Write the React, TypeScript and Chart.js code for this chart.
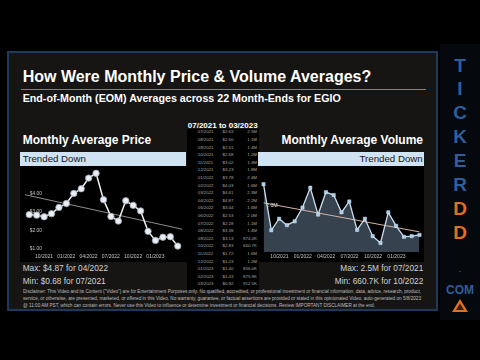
import React, { useEffect, useRef } from "react";
import { Chart, registerables } from "chart.js";
Chart.register(...registerables);

const FONT = '"Liberation Sans", Arial, Helvetica, sans-serif';

const months = [
  "07/2021", "08/2021", "09/2021", "10/2021", "11/2021", "12/2021",
  "01/2022", "02/2022", "03/2022", "04/2022", "05/2022", "06/2022",
  "07/2022", "08/2022", "09/2022", "10/2022", "11/2022", "12/2022",
  "01/2023", "02/2023", "03/2023",
];
const prices = [
  2.63, 2.6, 2.51, 2.68, 3.02, 3.23, 3.78, 4.03, 4.61, 4.87, 3.44, 2.53,
  2.28, 3.38, 3.13, 2.83, 1.72, 1.23, 1.4, 1.43, 0.92,
];
const volumes = [
  2500000, 1060000, 1420000, 1220000, 1340000, 1770000, 2390000, 1550000,
  2250000, 2160000, 1620000, 1960000, 1070000, 1420000, 874400, 660700,
  1620000, 1200000, 856000, 875900, 912500,
];
const priceTicks = [1, 2, 3, 4];
const volumeTicks = [1000000, 2000000];
const xTickIndices = [3, 6, 9, 12, 15, 18];

const titleText = "How Were Monthly Price & Volume Averages?";
const subtitleText = "End-of-Month (EOM) Averages across 22 Month-Ends for EGIO";
const rangeText = "07/2021 to 03/2023";
const priceMax = "Max: $4.87 for 04/2022";
const priceMin = "Min: $0.68 for 07/2021";
const volMax = "Max: 2.5M for 07/2021";
const volMin = "Min: 660.7K for 10/2022";
const disclaimer = [
  'Disclaimer: This Video and its Content ("Video") are for Entertainment Purposes only. No qualified, accredited, or professional investment or financial information, data, advice, research, product,',
  "service, or otherwise, are presented, marketed, or offered in this Video. No warranty, guarantee, or factual assertions are provided or stated in this opinionated Video, auto-generated on 5/8/2023",
  "@ 11:00 AM PST, which can contain errors. Never use this Video to influence or determine investment or financial decisions. Review IMPORTANT DISCLAIMER at the end.",
];
const disclaimerWidths = [398, 398, 352];
const brandLetters = ["T", "I", "C", "K", "E", "R", "D", "D"];

function linreg(ys: number[]) {
  const n = ys.length;
  const mx = (n - 1) / 2;
  const my = ys.reduce((a, b) => a + b, 0) / n;
  let sxy = 0;
  let sxx = 0;
  ys.forEach((y, i) => {
    sxy += (i - mx) * (y - my);
    sxx += (i - mx) * (i - mx);
  });
  const slope = sxy / sxx;
  return (x: number) => my + slope * (x - mx);
}

function fmtVol(v: number) {
  return v >= 1000000 ? (v / 1000000).toFixed(1) + "M" : (v / 1000).toFixed(1) + "K";
}

export default function App() {
  const priceRef = useRef<HTMLCanvasElement>(null);
  const volRef = useRef<HTMLCanvasElement>(null);

  useEffect(() => {
    const pTrend = linreg(prices);
    const vTrend = linreg(volumes);
    const common = {
      grid: { display: false, drawTicks: false },
      border: { display: false },
    };
    const xAxis = (min: number, max: number) => ({
      type: "linear",
      min,
      max,
      ...common,
      afterBuildTicks: (ax: any) => {
        ax.ticks = xTickIndices.map((v) => ({ value: v }));
      },
      afterFit: (ax: any) => {
        ax.height = 9;
        ax.paddingLeft = 0;
        ax.paddingRight = 0;
      },
      ticks: {
        color: "#c4c4c4",
        font: { size: 5, family: FONT },
        padding: 2,
        labelOffset: -7.5,
        maxRotation: 0,
        autoSkip: false,
        callback: (v: any) => months[v as number],
      },
    });
    const priceChart = new Chart(priceRef.current!, {
      type: "line",
      data: {
        datasets: [
          {
            data: prices.map((v, i) => ({ x: i, y: v })),
            borderColor: "#f0f0f0",
            borderWidth: 1.5,
            pointRadius: 3.2,
            pointBackgroundColor: "#e8eef4",
            pointBorderColor: "#9aa3ad",
            pointBorderWidth: 0.8,
            tension: 0,
            clip: 6,
          },
          {
            data: [
              { x: -0.6, y: pTrend(-0.6) },
              { x: 20.6, y: pTrend(20.6) },
            ],
            borderColor: "#8c8c8c",
            borderWidth: 1,
            pointRadius: 0,
          },
        ],
      },
      options: {
        animation: false,
        responsive: false,
        maintainAspectRatio: false,
        layout: { padding: 0 },
        plugins: { legend: { display: false }, tooltip: { enabled: false } },
        scales: {
          x: xAxis(-0.6, 20.6),
          y: {
            min: 0.6,
            max: 5.06,
            z: 1,
            ...common,
            afterBuildTicks: (ax: any) => {
              ax.ticks = priceTicks.map((v) => ({ value: v }));
            },
            afterFit: (ax: any) => {
              ax.width = 0;
              ax.paddingTop = 0;
              ax.paddingBottom = 0;
            },
            ticks: {
              mirror: true,
              padding: 5,
              labelOffset: 4,
              color: "#c4c4c4",
              font: { size: 4.8, family: FONT },
              callback: (v: any) => "$" + Number(v).toFixed(2),
            },
          },
        },
      } as any,
    });

    const volChart = new Chart(volRef.current!, {
      type: "line",
      data: {
        datasets: [
          {
            data: volumes.map((v, i) => ({ x: i, y: v })),
            borderColor: "#c9deee",
            borderWidth: 1.3,
            pointStyle: "rect",
            pointRadius: 2.3,
            pointBackgroundColor: "#a9cdea",
            pointBorderColor: "#d6e7f4",
            pointBorderWidth: 0.5,
            fill: "start",
            backgroundColor: "#36424e",
            tension: 0,
            clip: 6,
          },
          {
            data: [
              { x: 0, y: vTrend(0) },
              { x: 20, y: vTrend(20) },
            ],
            borderColor: "#d6b4a4",
            borderWidth: 1,
            pointRadius: 0,
          },
        ],
      },
      options: {
        animation: false,
        responsive: false,
        maintainAspectRatio: false,
        layout: { padding: 0 },
        plugins: {
          legend: { display: false },
          tooltip: { enabled: false },
          filler: { drawTime: "beforeDatasetsDraw" },
        },
        scales: {
          x: xAxis(0, 20),
          y: {
            min: 380000,
            max: 2960000,
            z: 1,
            ...common,
            afterBuildTicks: (ax: any) => {
              ax.ticks = volumeTicks.map((v) => ({ value: v }));
            },
            afterFit: (ax: any) => {
              ax.width = 0;
              ax.paddingTop = 0;
              ax.paddingBottom = 0;
            },
            ticks: {
              mirror: true,
              padding: 2.5,
              labelOffset: 5,
              color: "#e6e6e6",
              font: { size: 5.3, family: FONT },
              callback: (v: any) => (Number(v) / 1000000).toFixed(1) + "M",
            },
          },
        },
      } as any,
    });

    return () => {
      priceChart.destroy();
      volChart.destroy();
    };
  }, []);

  const abs = (left: number, top: number, extra: React.CSSProperties = {}): React.CSSProperties => ({
    position: "absolute",
    left,
    top,
    whiteSpace: "nowrap",
    ...extra,
  });

  return (
    <div
      style={{
        position: "fixed",
        left: 0,
        top: 0,
        width: 480,
        height: 360,
        background: "#000",
        overflow: "hidden",
        fontFamily: FONT,
      }}
    >
      {/* side strip */}
      <div style={abs(440, 44, { width: 40, height: 276, background: "#05080d" })} />
      {/* main panel */}
      <div
        style={abs(7, 51, {
          width: 431,
          height: 260,
          boxSizing: "border-box",
          border: "2px solid #1c3a5c",
          background: "#161513",
        })}
      />
      <div style={abs(22.7, 68.9, { color: "#fff", fontWeight: 700, fontSize: 16, lineHeight: "16px" })}>
        {titleText}
      </div>
      <div style={abs(21, 88.6, { width: 405, height: 1.6, background: "#b87436" })} />
      <div style={abs(22.7, 92.9, { color: "#fff", fontWeight: 700, fontSize: 10.7, lineHeight: "10.7px" })}>
        {subtitleText}
      </div>
      <div
        style={abs(172.7, 122.3, {
          width: 100,
          textAlign: "center",
          color: "#fff",
          fontWeight: 700,
          fontSize: 8,
          lineHeight: "8px",
        })}
      >
        {rangeText}
      </div>

      {/* black regions */}
      <div style={abs(186.5, 129, { width: 72, height: 161, background: "#000" })} />
      <div style={abs(20, 166, { width: 167, height: 96, background: "#000" })} />
      <div style={abs(258, 166, { width: 166, height: 96, background: "#000" })} />

      {/* section titles */}
      <div style={abs(22.7, 134.4, { color: "#fff", fontWeight: 700, fontSize: 12, lineHeight: "12px" })}>
        Monthly Average Price
      </div>
      <div
        style={abs(224, 134.4, {
          width: 199,
          textAlign: "right",
          color: "#fff",
          fontWeight: 700,
          fontSize: 12,
          lineHeight: "12px",
        })}
      >
        Monthly Average Volume
      </div>
      <div
        style={abs(20, 151.7, {
          width: 166,
          height: 14.3,
          background: "#cfe3f3",
          color: "#111",
          fontSize: 9.7,
          lineHeight: "14.3px",
          paddingLeft: 2.7,
          boxSizing: "border-box",
        })}
      >
        Trended Down
      </div>
      <div
        style={abs(258, 151.7, {
          width: 166,
          height: 14.3,
          background: "#cfe3f3",
          color: "#111",
          fontSize: 9.7,
          lineHeight: "14.3px",
          paddingRight: 1.3,
          textAlign: "right",
          boxSizing: "border-box",
        })}
      >
        Trended Down
      </div>

      {/* charts */}
      <canvas ref={priceRef} width={167} height={96} style={abs(20, 165.3, { width: 167, height: 96 })} />
      <canvas ref={volRef} width={165} height={96} style={abs(259, 165.1, { width: 165, height: 96 })} />

      {/* table */}
      {months.map((m, i) => (
        <React.Fragment key={m}>
          <div
            style={abs(197.7, 132.3 + i * 7.6 - 3, {
              color: "#a6a6a6",
              fontSize: 4.4,
              lineHeight: "6px",
            })}
          >
            {m}
          </div>
          <div
            style={abs(213.5, 132.3 + i * 7.6 - 3, {
              width: 20,
              textAlign: "right",
              color: "#a6a6a6",
              fontSize: 4.4,
              lineHeight: "6px",
            })}
          >
            {"$" + prices[i].toFixed(2)}
          </div>
          <div
            style={abs(232, 132.3 + i * 7.6 - 3, {
              width: 25,
              textAlign: "right",
              color: "#a6a6a6",
              fontSize: 4.4,
              lineHeight: "6px",
            })}
          >
            {fmtVol(volumes[i])}
          </div>
        </React.Fragment>
      ))}

      {/* max/min */}
      <div style={abs(22.7, 263.9, { color: "#d2d2d2", fontSize: 8.3, lineHeight: "8.3px" })}>{priceMax}</div>
      <div style={abs(22.7, 277, { color: "#d2d2d2", fontSize: 8.3, lineHeight: "8.3px" })}>{priceMin}</div>
      <div
        style={abs(303, 263.9, { width: 120.3, textAlign: "right", color: "#d2d2d2", fontSize: 8.3, lineHeight: "8.3px" })}
      >
        {volMax}
      </div>
      <div
        style={abs(303, 277, { width: 120.3, textAlign: "right", color: "#d2d2d2", fontSize: 8.3, lineHeight: "8.3px" })}
      >
        {volMin}
      </div>

      {/* disclaimer */}
      <svg style={abs(22.7, 288, {})} width={402} height={22} viewBox="0 0 402 22">
        {disclaimer.map((line, i) => (
          <text
            key={i}
            x={0}
            y={5.3 + i * 6.8}
            fontSize={4.6}
            fontFamily={FONT}
            fill="#bdbdbd"
            textLength={disclaimerWidths[i]}
            lengthAdjust="spacingAndGlyphs"
          >
            {line}
          </text>
        ))}
      </svg>

      {/* brand */}
      {brandLetters.map((ch, i) => (
        <div
          key={i}
          style={abs(446, 55.5 + i * 23.9, {
            width: 28,
            textAlign: "center",
            color: i >= 6 ? "#e2701e" : "#2d5f9c",
            fontWeight: 700,
            fontSize: 19,
            lineHeight: "19px",
          })}
        >
          {ch}
        </div>
      ))}
      <div style={abs(446, 266, { width: 28, textAlign: "center", color: "#2d5f9c", fontWeight: 700, fontSize: 8, lineHeight: "8px" })}>
        .
      </div>
      <div style={abs(440, 283.5, { width: 40, textAlign: "center", color: "#2d5f9c", fontWeight: 700, fontSize: 12, lineHeight: "12px" })}>
        COM
      </div>
      <svg style={abs(452, 299, {})} width={16} height={13} viewBox="0 0 16 13">
        <polygon points="8,0 16,13 0,13" fill="#e2701e" />
        <polygon points="8,4.5 12,11 4,11" fill="#3a1c08" />
      </svg>
    </div>
  );
}
